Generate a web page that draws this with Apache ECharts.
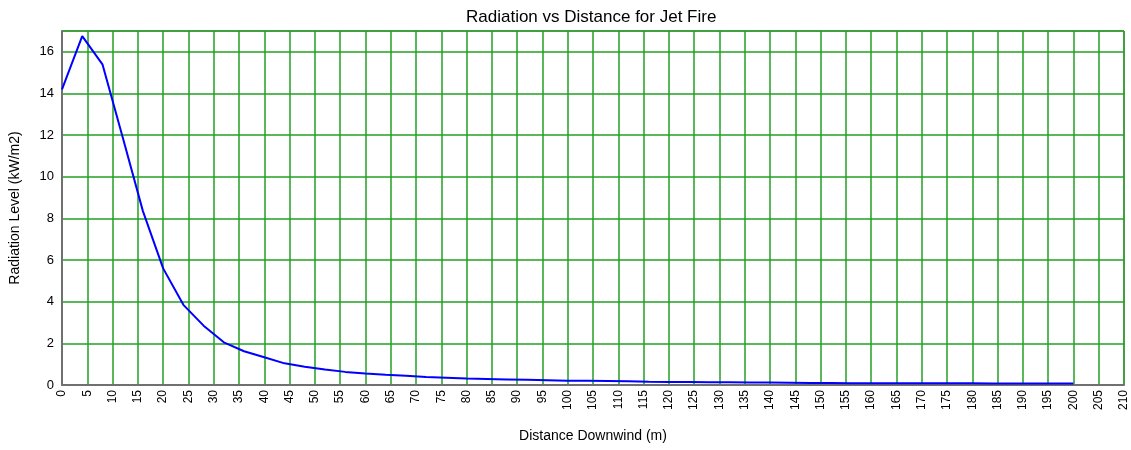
<!DOCTYPE html>
<html>
<head>
<meta charset="utf-8">
<script src="https://cdn.jsdelivr.net/npm/echarts@6/dist/echarts.min.js"></script>
<style>html,body{margin:0;padding:0;background:#fff;}#c{width:1131px;height:450px;}</style>
</head>
<body>
<div id="c"></div>
<script>
const titleText = 'Radiation vs Distance for Jet Fire';
const xName = 'Distance Downwind (m)';
const yName = 'Radiation Level (kW/m2)';
const distance = [0,4,8,12,16,20,24,28,32,36,40,44,48,52,56,60,64,68,72,76,80,84,88,92,96,100,104,108,112,116,120,124,128,132,136,140,144,148,152,156,160,164,168,172,176,180,184,188,192,196,200];
const radiation = [14.2,16.75,15.4,11.9,8.35,5.6,3.85,2.85,2.05,1.62,1.33,1.04,0.88,0.74,0.63,0.55,0.49,0.44,0.39,0.35,0.31,0.29,0.27,0.25,0.23,0.21,0.2,0.19,0.18,0.16,0.15,0.14,0.13,0.13,0.12,0.12,0.11,0.1,0.1,0.09,0.09,0.09,0.08,0.08,0.08,0.08,0.07,0.07,0.07,0.07,0.07];

const font = 'Liberation Sans, Arial, sans-serif';
const chart = echarts.init(document.getElementById('c'));
chart.setOption({
  animation: false,
  backgroundColor: '#fff',
  title: {text: titleText, left: 461, top: 4, textStyle: {fontFamily: font, fontSize: 17, fontWeight: 'normal', color: '#000'}},
  grid: {left: 61, right: 7, top: 31, bottom: 65, show: true, borderColor: '#404040', borderWidth: 1},
  xAxis: {
    type: 'value', min: 0, max: 210, interval: 5,
    name: xName, nameLocation: 'middle', nameGap: 44,
    nameTextStyle: {fontFamily: font, fontSize: 14, color: '#000'},
    axisLine: {lineStyle: {color: '#707070', width: 2}},
    axisTick: {show: false},
    axisLabel: {rotate: 90, fontFamily: font, fontSize: 12, color: '#000', margin: 5},
    splitLine: {lineStyle: {color: '#22a022', width: 1.5}}
  },
  yAxis: {
    type: 'value', min: 0, max: 17, interval: 2,
    name: yName, nameLocation: 'middle', nameGap: 40,
    nameTextStyle: {fontFamily: font, fontSize: 14, color: '#000'},
    axisLine: {show: true, lineStyle: {color: '#707070', width: 2}},
    axisTick: {show: false},
    axisLabel: {fontFamily: font, fontSize: 13, color: '#000', margin: 8, showMaxLabel: false},
    splitLine: {lineStyle: {color: '#22a022', width: 1.5}}
  },
  series: [{
    type: 'line', data: distance.map((d, i) => [d, radiation[i]]),
    showSymbol: false, symbol: 'none',
    lineStyle: {color: '#0000ff', width: 2}
  }]
});
</script>
</body>
</html>
